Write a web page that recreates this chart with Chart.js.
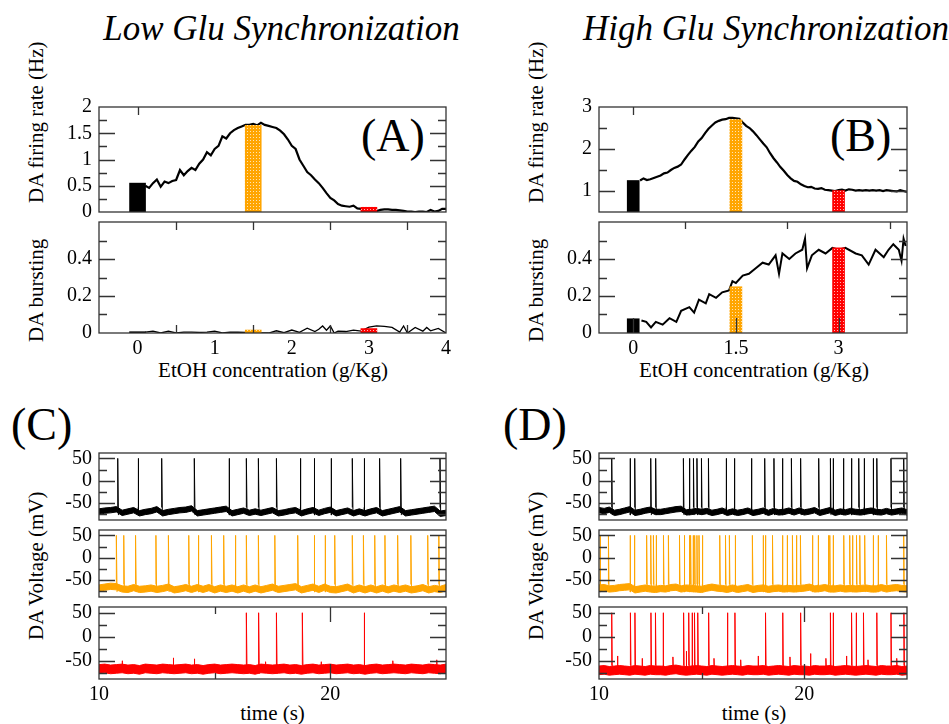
<!DOCTYPE html>
<html><head><meta charset="utf-8">
<script src="https://cdn.jsdelivr.net/npm/chart.js@4.4.1/dist/chart.umd.min.js"></script>
<style>
html,body{margin:0;padding:0;background:#fff;width:949px;height:724px;overflow:hidden;position:relative;font-family:'Liberation Serif','Times New Roman',serif;}
canvas{position:absolute;}
.t{position:absolute;white-space:nowrap;line-height:1;color:#000;font-family:'Liberation Serif','Times New Roman',serif;}
.c{transform:translateX(-50%);}
.rot{transform-origin:0 0;transform:rotate(-90deg);}
</style></head><body>
<div class="t c" style="left:281.5px;top:10.5px;font-size:35px;font-style:italic;">Low Glu Synchronization</div>
<div class="t c" style="left:766px;top:10.5px;font-size:35px;font-style:italic;">High Glu Synchronization</div>
<div class="t" style="left:361px;top:113px;font-size:46px;">(A)</div>
<div class="t" style="left:830px;top:113px;font-size:46px;">(B)</div>
<div class="t" style="left:11px;top:401.5px;font-size:46px;">(C)</div>
<div class="t" style="left:503px;top:401.5px;font-size:46px;">(D)</div>
<div class="t rot" style="left:26.4px;top:203px;font-size:21px;">DA firing rate (Hz)</div>
<div class="t rot" style="left:26.4px;top:342px;font-size:21px;">DA bursting</div>
<div class="t rot" style="left:526.4px;top:203px;font-size:21px;">DA firing rate (Hz)</div>
<div class="t rot" style="left:526.4px;top:342px;font-size:21px;">DA bursting</div>
<div class="t rot" style="left:26.4px;top:640px;font-size:21px;">DA Voltage (mV)</div>
<div class="t rot" style="left:526.4px;top:640px;font-size:21px;">DA Voltage (mV)</div>
<div class="t c" style="left:273px;top:359.7px;font-size:21px;">EtOH concentration (g/Kg)</div>
<div class="t c" style="left:754px;top:359.7px;font-size:21px;">EtOH concentration (g/Kg)</div>
<div class="t c" style="left:272.5px;top:703.4px;font-size:21px;">time (s)</div>
<div class="t c" style="left:754px;top:703.4px;font-size:21px;">time (s)</div>
<script>
// ===================== DATA =====================
// EtOH concentration grid for the firing-rate curves (g/Kg)
const concStart = 0.10, concStep = 0.05;
const rateLow = [0.50,0.46,0.55,0.62,0.48,0.58,0.55,0.59,0.61,0.80,0.70,0.78,0.84,0.80,0.92,1.00,1.14,1.08,1.20,1.26,1.44,1.40,1.50,1.56,1.60,1.63,1.66,1.66,1.68,1.65,1.70,1.66,1.64,1.62,1.60,1.55,1.48,1.38,1.26,1.20,1.00,0.88,0.76,0.70,0.62,0.55,0.46,0.36,0.27,0.22,0.15,0.12,0.11,0.10,0.12,0.07,0.06,0.05,0.04,0.03,0.02,0.04,0.05,0.05,0.04,0.04,0.03,0.02,0.01,0.01,0.00,0.01,0.01,0.00,0.04,0.01,0.02,0.06,0.06];
const rateHigh = [1.25,1.30,1.26,1.28,1.31,1.34,1.37,1.42,1.44,1.50,1.55,1.58,1.63,1.75,1.86,1.96,2.05,2.18,2.26,2.38,2.48,2.56,2.63,2.67,2.70,2.71,2.74,2.74,2.73,2.72,2.63,2.55,2.50,2.42,2.33,2.23,2.13,2.04,1.90,1.78,1.68,1.57,1.48,1.38,1.30,1.24,1.22,1.16,1.12,1.09,1.10,1.06,1.05,1.07,1.03,1.02,1.01,1.00,1.02,1.03,1.01,1.04,1.03,1.01,1.02,1.01,1.02,1.01,1.02,1.01,1.02,1.00,1.02,1.01,1.00,0.99,1.02,1.00,0.98];
const burstLowX = [0.10,0.20,0.30,0.40,0.50,0.60,0.70,0.80,0.90,1.00,1.10,1.20,1.30,1.40,1.50,1.60,1.70,1.80,1.90,2.00,2.10,2.20,2.30,2.35,2.40,2.45,2.50,2.55,2.60,2.70,2.80,2.90,3.00,3.10,3.20,3.30,3.40,3.45,3.50,3.60,3.70,3.75,3.80,3.90,4.00];
const burstLowY = [0.005,0.01,0.0,0.01,0.0,0.005,0.005,0.003,0.005,0.01,0.0,0.005,0.004,0.003,0.006,0.002,0.0,0.012,0.002,0.016,0.004,0.026,0.008,0.02,0.038,0.015,0.038,0.0,0.01,0.008,0.016,0.01,0.032,0.038,0.036,0.03,0.005,0.038,0.0,0.03,0.01,0.03,0.012,0.025,0.0];
const burstHighX = [0.12,0.19,0.26,0.33,0.43,0.53,0.63,0.70,0.82,0.89,0.96,1.06,1.11,1.21,1.30,1.40,1.45,1.50,1.60,1.69,1.79,1.89,1.98,2.08,2.13,2.18,2.28,2.37,2.47,2.51,2.54,2.61,2.71,2.81,2.91,3.00,3.10,3.25,3.34,3.44,3.54,3.66,3.73,3.80,3.88,3.92,3.95,3.98];
const burstHighY = [0.068,0.06,0.03,0.06,0.045,0.08,0.06,0.12,0.14,0.11,0.18,0.16,0.21,0.19,0.22,0.23,0.28,0.27,0.31,0.32,0.35,0.38,0.37,0.42,0.32,0.43,0.40,0.43,0.45,0.51,0.35,0.42,0.45,0.43,0.46,0.45,0.46,0.43,0.42,0.37,0.45,0.41,0.45,0.48,0.45,0.39,0.51,0.47];
// Bars: doses 0, 1.5, 3 g/Kg
const barDoses = [0, 1.5, 3];
const barRateLow = [0.55, 1.65, 0.09];
const barBurstLow = [0.007, 0.016, 0.024];
const barRateHigh = [1.25, 2.70, 1.01];
const barBurstHigh = [0.077, 0.25, 0.46];

// Voltage traces: baseline sampled every 0.25 s from 10 s to 25 s, spike times (s)
const tStart = 10, tStep = 0.25;
const baseC_black = [-69,-67,-66,-64,-72,-69,-66,-73,-70,-68,-64,-73,-70,-68,-66,-65,-62,-73,-71,-69,-67,-65,-63,-73,-70,-67,-72,-69,-72,-69,-66,-73,-71,-68,-66,-73,-69,-66,-72,-68,-65,-73,-70,-67,-73,-69,-73,-69,-66,-73,-70,-67,-64,-73,-71,-69,-67,-65,-63,-74,-72];
const baseC_orange = [-68,-66,-64,-65,-70,-71,-67,-71,-70,-68,-71,-69,-66,-72,-70,-67,-71,-67,-71,-67,-72,-68,-71,-68,-72,-68,-72,-68,-72,-69,-66,-71,-69,-67,-65,-72,-69,-66,-71,-66,-71,-72,-69,-66,-72,-68,-72,-68,-72,-68,-72,-68,-71,-68,-72,-70,-67,-72,-69,-71,-67];
const baseC_red = [-67,-66,-68,-67,-66,-68,-67,-69,-66,-67,-68,-66,-67,-68,-67,-66,-68,-67,-69,-67,-66,-68,-67,-66,-67,-68,-67,-69,-66,-67,-68,-67,-66,-68,-67,-69,-67,-66,-68,-67,-66,-68,-67,-66,-68,-67,-69,-67,-66,-68,-67,-66,-67,-68,-66,-67,-68,-66,-67,-68,-66];
const baseD_black = [-66,-68,-65,-72,-70,-67,-64,-72,-70,-67,-65,-70,-70,-68,-66,-64,-63,-71,-70,-68,-70,-68,-72,-70,-67,-72,-69,-72,-70,-67,-72,-70,-67,-72,-68,-71,-70,-67,-71,-67,-71,-69,-66,-72,-69,-66,-72,-69,-71,-68,-70,-71,-69,-67,-70,-71,-68,-71,-69,-67,-71];
const baseD_orange = [-68,-67,-70,-69,-67,-66,-65,-72,-70,-68,-70,-71,-69,-70,-67,-66,-70,-68,-69,-70,-71,-68,-66,-68,-69,-71,-68,-71,-69,-67,-71,-69,-68,-71,-69,-68,-70,-69,-70,-69,-68,-66,-70,-69,-67,-70,-70,-68,-70,-69,-70,-69,-68,-70,-70,-67,-70,-68,-67,-69,-70];
const baseD_red = [-70,-69,-71,-70,-69,-70,-71,-69,-70,-71,-69,-70,-70,-71,-69,-68,-70,-71,-70,-69,-70,-71,-69,-70,-71,-70,-69,-70,-71,-69,-70,-70,-69,-71,-70,-69,-70,-71,-69,-70,-70,-71,-69,-70,-70,-69,-71,-70,-69,-70,-71,-70,-69,-70,-71,-69,-70,-70,-69,-71,-70];
const spikesC_black = [10.81,11.69,12.71,14.12,15.62,16.37,16.89,17.67,18.70,19.30,20.03,20.95,21.46,22.13,23.04,24.74];
const spikesC_orange = [10.75,11.07,11.58,12.46,13.00,13.88,14.29,14.86,15.39,15.89,16.37,16.89,17.60,18.59,19.30,19.77,20.19,20.95,21.43,21.92,22.36,22.91,23.48,24.21,24.69];
const spikesC_red = [16.37,16.90,17.67,18.79,21.46];
const smallC_red = [[11.0,-50],[13.21,-44],[14.12,-46],[17.2,-52],[19.6,-52],[22.7,-50],[24.6,-48]];
const spikesD_black = [10.62,11.51,11.74,12.52,12.76,14.11,14.40,14.60,14.77,14.99,15.33,16.19,16.59,17.42,18.07,18.52,18.93,19.37,19.82,20.70,21.27,21.40,21.90,22.29,22.65,22.91,23.35,23.53,24.22,24.84];
const spikesD_orange = [10.05,10.46,11.51,11.72,12.32,12.52,12.65,12.78,13.14,13.38,13.92,14.15,14.40,14.46,14.58,14.66,14.77,14.87,15.03,15.88,16.16,16.35,16.63,17.47,17.99,18.10,18.45,18.93,19.16,19.42,19.61,19.81,20.39,20.67,21.17,21.24,21.40,21.92,22.21,22.34,22.54,22.70,22.94,23.35,23.59,24.00,24.84];
const spikesD_red = [10.62,11.53,11.75,12.53,12.75,13.12,14.12,14.37,14.53,14.65,14.81,15.34,16.25,16.62,18.11,18.95,19.82,21.27,21.40,22.30,22.52,22.88,23.53,24.22,24.85];
const smallD_red = [[10.9,-40],[12.1,-45],[13.6,-42],[14.25,-30],[15.6,-45],[16.9,-48],[17.75,-40],[19.3,-42],[20.3,-35],[21.05,-45],[22.05,-40],[23.1,-48],[24.5,-45]];
const spikePeak = 50;

// tick values / labels
const concTicksLow = [0,1,2,3,4], concLabelsLow = ['0','1','2','3','4'];
const concTicksHigh = [0,1.5,3], concLabelsHigh = ['0','1.5','3'];
const rateTicksLow = [0,0.5,1,1.5,2], rateLabelsLow = ['0','0.5','1','1.5','2'];
const rateTicksHigh = [1,2,3], rateLabelsHigh = ['1','2','3'];
const burstTicks = [0,0.2,0.4], burstLabels = ['0','0.2','0.4'];
const timeTicks = [10,20], timeLabels = ['10','20'];
const voltTicks = [-50,0,50], voltLabels = ['-50','0','50'];

// ===================== DRAWING =====================
Chart.defaults.font.family = "'Liberation Serif','Times New Roman',serif";
Chart.defaults.font.size = 20;
Chart.defaults.color = '#000';

const BLACK = '#000000', ORANGE = '#FFA500', RED = '#FF0000';
function stipple(color, size){
  const c = document.createElement('canvas'); c.width = size; c.height = size;
  const g = c.getContext('2d'); g.fillStyle = color; g.fillRect(0,0,size,size);
  g.fillStyle = 'rgba(255,255,255,0.7)'; g.fillRect(1,1,1,1);
  return g.createPattern(c, 'repeat');
}
const barColors = [BLACK, stipple(ORANGE,3), stipple(RED,3)];

const frameTicks = {
  id: 'frameTicks',
  afterDatasetsDraw(chart, args, opts){
    const {ctx, chartArea: a, scales} = chart;
    const sp = opts.spec || {};
    ctx.save();
    ctx.strokeStyle = '#333'; ctx.lineWidth = 1.3;
    ctx.beginPath();
    (sp.y||[]).forEach(([v,len]) => {
      const p = Math.round(scales.y.getPixelForValue(v)) + 0.5;
      if (p < a.top + 1 || p > a.bottom - 1) return;
      ctx.moveTo(a.left, p); ctx.lineTo(a.left + len, p);
      ctx.moveTo(a.right, p); ctx.lineTo(a.right - len, p);
    });
    (sp.top||[]).forEach(([v,len]) => {
      const p = Math.round(scales.x.getPixelForValue(v)) + 0.5;
      ctx.moveTo(p, a.top); ctx.lineTo(p, a.top + len);
    });
    (sp.bottom||[]).forEach(([v,len]) => {
      const p = Math.round(scales.x.getPixelForValue(v)) + 0.5;
      ctx.moveTo(p, a.bottom); ctx.lineTo(p, a.bottom - len);
    });
    ctx.stroke();
    ctx.strokeRect(a.left, a.top, a.right - a.left, a.bottom - a.top);
    ctx.restore();
  }
};

const PADT = 14, PADR = 14, YW = 60, XH = 30;
function makeChart(plot, xCfg, yCfg, datasets, spec){
  const showX = !!xCfg.ticks;
  const cv = document.createElement('canvas');
  const w = YW + plot.w + PADR, h = PADT + plot.h + (showX ? XH : PADT);
  cv.width = w; cv.height = h;
  cv.style.left = (plot.x - YW) + 'px'; cv.style.top = (plot.y - PADT) + 'px';
  cv.style.width = w + 'px'; cv.style.height = h + 'px';
  document.body.appendChild(cv);
  const axis = (cfg, isX) => ({
    type: 'linear', min: cfg.min, max: cfg.max, display: isX ? showX : true,
    offset: false, bounds: 'data',
    grid: {display: false, drawTicks: false, offset: false}, border: {display: false},
    ticks: {padding: isX ? 4 : 7, autoSkip: false, maxRotation: 0, font: {size: 20}, color: '#000',
      callback: (v, i) => (cfg.labels ? cfg.labels[i] : '')},
    afterBuildTicks: s => { s.ticks = (cfg.ticks || []).map(v => ({value: v})); },
    afterFit: s => { if (isX) { s.height = showX ? XH : 0; } else { s.width = YW; } }
  });
  return new Chart(cv, {
    type: 'line',
    data: {datasets},
    options: {
      responsive: false, animation: false, events: [],
      layout: {padding: {top: PADT, right: PADR, bottom: showX ? 0 : PADT, left: 0}},
      plugins: {legend: {display: false}, tooltip: {enabled: false}, frameTicks: {spec}},
      scales: {x: axis(xCfg, true), y: axis(yCfg, false)}
    },
    plugins: [frameTicks]
  });
}

function gridSeries(vals, start, step, off){ return vals.map((v,i) => ({x: +(start + i*step).toFixed(3), y: v + (off||0)})); }
function pairSeries(xs, ys){ return xs.map((x,i) => ({x, y: ys[i]})); }
function lineDS(data, color, width, order){
  return {type:'line', data, borderColor: color, borderWidth: width, pointRadius: 0, fill: false, tension: 0, spanGaps: false, order: order ?? 1};
}
function barDS(values, thickness){
  return values.map((v,i) => ({type:'bar', data:[{x: barDoses[i], y: v}], backgroundColor: barColors[i], borderWidth: 0, barThickness: thickness, grouped: false, order: 0}));
}
function traceDS(base, spikes, small, color, hw){
  const up = gridSeries(base, tStart, tStep, hw), lo = gridSeries(base, tStart, tStep, -hw);
  const sp = [];
  spikes.forEach(t => { sp.push({x:t, y:-60}, {x:t, y:spikePeak}, {x:t+0.03, y:-77}, {x:t+0.03, y:null}); });
  (small||[]).forEach(([t,v]) => { sp.push({x:t, y:-62}, {x:t, y:v}, {x:t+0.02, y:-66}, {x:t+0.02, y:null}); });
  return [
    {type:'line', data: up, borderColor: color, borderWidth: 1, pointRadius: 0, fill: false, tension: 0},
    {type:'line', data: lo, borderColor: color, borderWidth: 1, pointRadius: 0, fill: 0, backgroundColor: color, tension: 0},
    {type:'line', data: sp, borderColor: color, borderWidth: 1, pointRadius: 0, fill: false, tension: 0, spanGaps: false}
  ];
}

const yRateLowTicks = [[0.25,8],[0.5,16],[0.75,8],[1,16],[1.25,8],[1.5,16],[1.75,8]];
const yBurstTicks = [[0.1,8],[0.2,16],[0.3,8],[0.4,16],[0.5,8]];
const yRateHighTicks = [[1,16],[1.5,8],[2,16],[2.5,8]];
const yVoltTicks = [[-75,8],[-50,16],[-25,8],[0,16],[25,8],[50,16]];

// (A) top
makeChart({x:99,y:102,w:347,h:115}, {min:-0.5,max:4},
  {min:0,max:2,ticks:rateTicksLow,labels:rateLabelsLow},
  [...barDS(barRateLow,16), lineDS(gridSeries(rateLow,concStart,concStep),BLACK,2.2)],
  {y:yRateLowTicks, top:[[0,8]]});
// (A) bottom
makeChart({x:99,y:217,w:347,h:116}, {min:-0.5,max:4,ticks:concTicksLow,labels:concLabelsLow},
  {min:0,max:0.6,ticks:burstTicks,labels:burstLabels},
  [...barDS(barBurstLow,16), lineDS(pairSeries(burstLowX,burstLowY),BLACK,1.3)],
  {y:yBurstTicks, top:[[0.5,8],[1.5,8],[2.5,8],[3.5,8]], bottom:[[0.5,8],[1.5,8],[2.5,8],[3.5,8]]});
// (B) top
makeChart({x:599,y:102,w:308,h:115}, {min:-0.5,max:4},
  {min:0.5,max:3,ticks:rateTicksHigh,labels:rateLabelsHigh},
  [...barDS(barRateHigh,12), lineDS(gridSeries(rateHigh,concStart,concStep),BLACK,2.2)],
  {y:yRateHighTicks, top:[[0,8]]});
// (B) bottom
makeChart({x:599,y:217,w:308,h:116}, {min:-0.5,max:4,ticks:concTicksHigh,labels:concLabelsHigh},
  {min:0,max:0.6,ticks:burstTicks,labels:burstLabels},
  [...barDS(barBurstHigh,12), lineDS(pairSeries(burstHighX,burstHighY),BLACK,2)],
  {y:yBurstTicks, top:[[0.75,7],[2.25,7],[3.75,7]], bottom:[[0,15],[1.5,15],[3,15]]});

// (C) and (D) voltage traces
const VMIN = -88, VMAX = 62;
const tracesC = [[baseC_black,spikesC_black,null,BLACK,6],[baseC_orange,spikesC_orange,null,ORANGE,7],[baseC_red,spikesC_red,smallC_red,RED,9]];
const tracesD = [[baseD_black,spikesD_black,null,BLACK,6],[baseD_orange,spikesD_orange,null,ORANGE,7],[baseD_red,spikesD_red,smallD_red,RED,9]];
const rowsY = [448, 525, 602];
[[99,347,tracesC],[599,308,tracesD]].forEach(([px,pw,traces]) => {
  traces.forEach((tr,k) => {
    const last = k === 2;
    makeChart({x:px,y:rowsY[k],w:pw,h:77},
      last ? {min:10,max:25,ticks:timeTicks,labels:timeLabels} : {min:10,max:25},
      {min:VMIN,max:VMAX,ticks:voltTicks,labels:voltLabels},
      traceDS(tr[0],tr[1],tr[2],tr[3],tr[4]),
      last ? {y:yVoltTicks, top:[[15,7],[20,15]], bottom:[[15,6],[20,15]]} : {y:yVoltTicks});
  });
});
</script>
</body></html>
